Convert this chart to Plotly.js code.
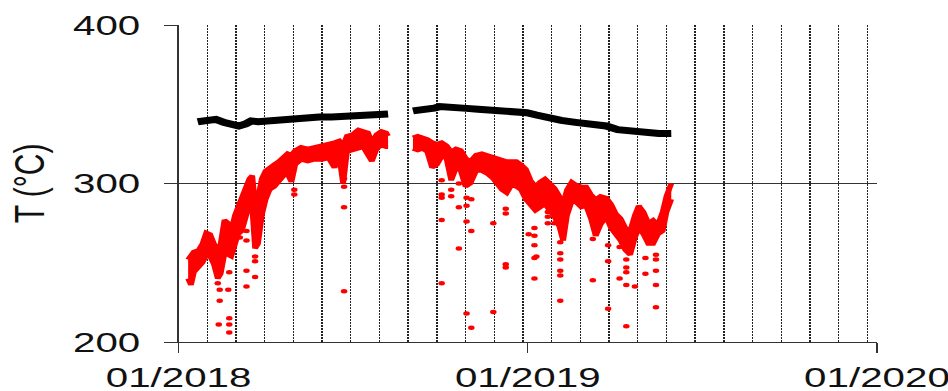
<!DOCTYPE html>
<html>
<head>
<meta charset="utf-8">
<script src="https://cdn.plot.ly/plotly-3.0.1.min.js"></script>
<style>
html,body{margin:0;padding:0;background:#fff;overflow:hidden;}
#plot{width:680px;height:391px;transform:scaleX(1.44);transform-origin:0 0;}
</style>
</head>
<body>
<div id="plot"></div>
<script>
// ---- data ----
const tickDates = ['2018-01-01','2019-01-01','2020-01-01'];
const tickLabels = ['01/2018','01/2019','01/2020'];
const yTicks = [200,300,400];

const blackDates1 = ['2018-01-21','2018-01-30','2018-02-09','2018-02-18','2018-02-26','2018-03-05','2018-03-12','2018-03-18','2018-03-25','2018-04-03','2018-04-12','2018-04-22','2018-05-02','2018-05-15','2018-05-28','2018-06-10','2018-06-25','2018-07-09','2018-07-22','2018-08-08'];
const blackVals1 = [339,339.5,340.5,338.5,337,336.3,337.5,339.5,339,339.5,340.5,341,341.5,341.5,342,342,342.3,342.6,343,343.8];
const blackDates2 = ['2018-09-03','2018-09-15','2018-09-25','2018-10-01','2018-10-10','2018-10-20','2018-10-29','2018-11-10','2018-11-20','2018-12-02','2018-12-15','2018-12-31','2019-01-10','2019-01-23','2019-02-05','2019-02-20','2019-03-05','2019-03-24','2019-04-05','2019-04-21','2019-05-05','2019-05-18','2019-05-31'];
const blackVals2 = [345.8,346.2,347.5,348.5,347.8,347.6,347.4,346.8,346.4,346,345.6,344.7,343.2,341.1,339.8,338.6,337.8,336.3,334,332.7,332,331.5,331.6];

const redDates1 = ['2018-01-11','2018-01-14','2018-01-17','2018-01-22','2018-01-26','2018-01-30','2018-02-03','2018-02-07','2018-02-11','2018-02-14','2018-02-18','2018-02-22','2018-02-25','2018-03-01','2018-03-04','2018-03-08','2018-03-12','2018-03-16','2018-03-19','2018-03-22','2018-03-25','2018-03-29','2018-04-02','2018-04-06','2018-04-11','2018-04-16','2018-04-21','2018-04-25','2018-04-29','2018-05-03','2018-05-09','2018-05-16','2018-05-23','2018-05-31','2018-06-07','2018-06-13','2018-06-18','2018-06-22','2018-06-26','2018-07-02','2018-07-08','2018-07-13','2018-07-18','2018-07-22','2018-07-27','2018-08-01','2018-08-06','2018-08-08'];
const redHi1 = [252,255,257,258,262,269,268,262,258,262,277,275,270,280,285,290,297,303,305,287,290,303,308,310,312,314,317,319,318,321,323,322,323,324,325,326,327,324,330,331,334,333,332,326,331,333,332,330];
const redLo1 = [240,236,244,247,250,255,254,249,240,243,256,255,254,262,268,270,279,287,285,259,262,280,290,296,298,302,305,306,301,312,315,314,315,315,316,310,317,300,320,321,322,323,318,314,322,324,323,323];

const redDates2 = ['2018-09-03','2018-09-08','2018-09-13','2018-09-18','2018-09-23','2018-09-28','2018-10-03','2018-10-08','2018-10-13','2018-10-18','2018-10-23','2018-10-28','2018-11-02','2018-11-08','2018-11-14','2018-11-20','2018-11-26','2018-11-30','2018-12-05','2018-12-10','2018-12-15','2018-12-20','2018-12-25','2018-12-30','2019-01-04','2019-01-09','2019-01-14','2019-01-19','2019-01-24','2019-01-29','2019-02-03','2019-02-07','2019-02-11','2019-02-16','2019-02-21','2019-02-26','2019-03-03','2019-03-08','2019-03-13','2019-03-18','2019-03-24','2019-03-29','2019-04-03','2019-04-08','2019-04-13','2019-04-18','2019-04-23','2019-04-27','2019-05-02','2019-05-07','2019-05-12','2019-05-17','2019-05-22','2019-05-26','2019-05-31'];
const redHi2 = [329,330,329,328,326,325,326,324,320,322,321,316,314,318,319,318,317,316,315,314,314,314,312,309,302,298,301,303,300,297,292,287,296,301,299,298,298,293,290,292,291,287,281,278,272,270,280,286,282,275,277,274,282,292,300];
const redLo2 = [322,321,322,320,310,312,317,316,302,310,308,298,300,308,308,306,303,300,296,294,299,298,296,290,286,283,285,287,283,279,273,264,280,289,288,285,286,278,267,274,279,272,268,264,258,255,266,272,268,262,262,268,270,282,290];

const outDates = ['2018-02-11','2018-02-13','2018-02-13','2018-02-12','2018-02-23','2018-02-23','2018-02-23','2018-02-23','2018-02-22','2018-03-06','2018-03-13','2018-03-13','2018-03-13','2018-03-13','2018-03-22','2018-03-22','2018-03-22','2018-05-02','2018-05-02','2018-06-23','2018-06-23','2018-06-23','2018-06-23','2018-06-23',
 '2018-10-03','2018-10-03','2018-10-03','2018-10-03','2018-10-03','2018-10-13','2018-10-13','2018-10-21','2018-10-21','2018-10-21','2018-10-29','2018-10-29','2018-10-29','2018-10-29','2018-11-03','2018-11-03','2018-11-03','2018-11-26','2018-11-26','2018-12-09','2018-12-09','2018-12-09','2018-12-09','2019-01-02','2019-01-08','2019-01-08','2019-01-08','2019-01-08','2019-01-08','2019-01-10','2019-01-22','2019-01-22','2019-01-22','2019-01-29','2019-02-04','2019-02-04','2019-02-04','2019-02-04','2019-02-04','2019-02-04','2019-03-10','2019-03-10','2019-03-26','2019-03-26','2019-03-26','2019-04-07','2019-04-07','2019-04-14','2019-04-14','2019-04-14','2019-04-14','2019-04-14','2019-04-23','2019-05-04','2019-05-04','2019-05-15','2019-05-15','2019-05-15','2019-05-15','2019-05-15'];
const outVals = [237,233,226,211,215,211,206,244,233,266,270,264,245,235,254,251,241,296,293,308,303,298,285,232,
 302,293,291,277,237,296,292,300,285,259,291,286,276,218,290,270,209,275,219,284,281,249,247,268,272,267,261,253,240,254,282,279,275,275,263,256,252,245,242,226,265,239,261,251,221,260,240,252,247,244,236,210,235,253,243,255,252,245,236,222];

// ---- traces ----
const RED = '#ff0000';
const traces = [
  {x: redDates1, y: redLo1, mode: 'lines', line: {color: RED, width: 4}, hoverinfo: 'skip'},
  {x: redDates1, y: redHi1, mode: 'lines', fill: 'tonexty', fillcolor: RED, line: {color: RED, width: 4}, hoverinfo: 'skip'},
  {x: redDates2, y: redLo2, mode: 'lines', line: {color: RED, width: 4}, hoverinfo: 'skip'},
  {x: redDates2, y: redHi2, mode: 'lines', fill: 'tonexty', fillcolor: RED, line: {color: RED, width: 4}, hoverinfo: 'skip'},
  {x: outDates, y: outVals, mode: 'markers', marker: {color: RED, size: 4.5}, hoverinfo: 'skip'},
  {x: blackDates1, y: blackVals1, mode: 'lines', line: {color: '#000', width: 7}, hoverinfo: 'skip'},
  {x: blackDates2, y: blackVals2, mode: 'lines', line: {color: '#000', width: 7}, hoverinfo: 'skip'}
];

const layout = {
  width: 680, height: 391,
  margin: {l: 124, r: 71, t: 25, b: 49},
  paper_bgcolor: '#fff', plot_bgcolor: '#fff',
  showlegend: false,
  font: {family: 'Liberation Sans, Arial, sans-serif', color: '#111', size: 28},
  xaxis: {
    type: 'date',
    range: ['2018-01-01', '2020-01-01'],
    tickmode: 'array', tickvals: tickDates, ticktext: tickLabels,
    ticks: 'outside', ticklen: 10, tickwidth: 1, tickcolor: '#333',
    showline: true, linecolor: '#333', linewidth: 1,
    showgrid: false, zeroline: false,
    ticklabeloverflow: 'allow',
    tickfont: {size: 28, family: 'Liberation Sans, Arial, sans-serif', color: '#111'},
    minor: {dtick: 30 * 86400000, tick0: '2018-01-01', showgrid: true, gridcolor: '#222', gridwidth: 1, griddash: '2px,1px', ticks: ''}
  },
  yaxis: {
    range: [200, 400],
    tickmode: 'array', tickvals: yTicks,
    ticks: 'outside', ticklen: 9, tickwidth: 1, tickcolor: '#333',
    showline: true, linecolor: '#333', linewidth: 1,
    showgrid: true, gridcolor: '#333', gridwidth: 1, zeroline: false,
    tickfont: {size: 28, family: 'Liberation Sans, Arial, sans-serif', color: '#111'},
    ticklabelstandoff: 11,
    title: {text: 'T (°C)', font: {size: 30, family: 'Liberation Sans, Arial, sans-serif', color: '#111'}, standoff: 10}
  }
};

Plotly.newPlot('plot', traces, layout, {displayModeBar: false, staticPlot: true});
</script>
</body>
</html>
